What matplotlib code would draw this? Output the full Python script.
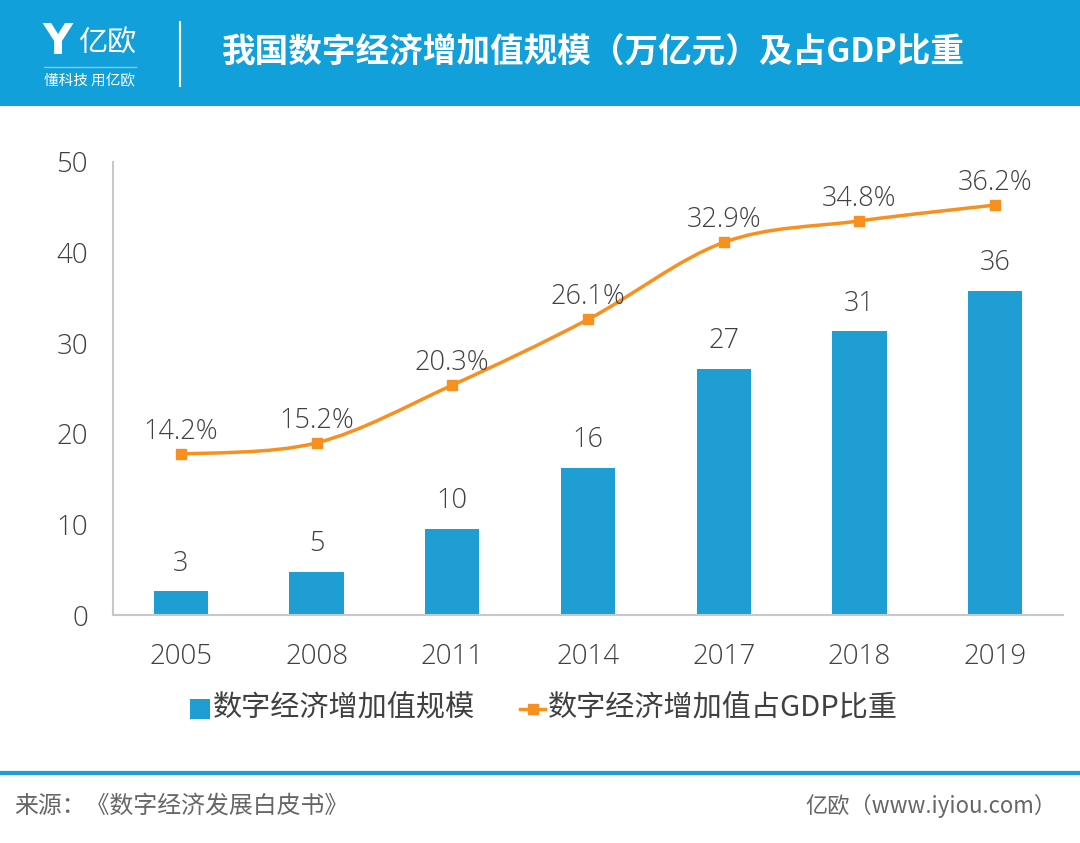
import matplotlib
matplotlib.use("Agg")
import matplotlib.pyplot as plt
from matplotlib.path import Path
from matplotlib.patches import PathPatch, Rectangle
from matplotlib.lines import Line2D

plt.rcParams['font.family'] = ['Noto Sans CJK SC', 'DejaVu Sans']

years = ['2005', '2008', '2011', '2014', '2017', '2018', '2019']
scale = [2.6, 4.8, 9.5, 16.2, 27.2, 31.3, 35.8]
scale_labels = ['3', '5', '10', '16', '27', '31', '36']
share = [14.2, 15.2, 20.3, 26.1, 32.9, 34.8, 36.2]
yticks = [0, 10, 20, 30, 40, 50]

title = '我国数字经济增加值规模（万亿元）及占GDP比重'
bar_name = '数字经济增加值规模'
line_name = '数字经济增加值占GDP比重'
source = '来源：《数字经济发展白皮书》'
credit = '亿欧（www.iyiou.com）'

BLUE_HDR = '#12a0da'
BAR = '#1f9ed4'
ORANGE = '#f7901e'
TXT = '#404040'
W, H = 1080, 843
NUMFAM = ['Open Sans', 'DejaVu Sans']

fig = plt.figure(figsize=(W / 100, H / 100), dpi=100)
fig.patch.set_facecolor('white')

def fx(px):
    return px / W

def fy(py):
    return 1 - py / H

# header
fig.patches.append(Rectangle((0, fy(106)), 1, 106 / H, transform=fig.transFigure,
                             facecolor=BLUE_HDR, edgecolor='none', zorder=0))
fig.text(fx(42), fy(42), 'Y', color='white', fontsize=30, fontweight='bold',
         family=['DejaVu Sans'], ha='left', va='center')
fig.text(fx(78), fy(44), '亿欧', color='white', fontsize=21, ha='left', va='center',
         fontweight='light')
fig.lines.append(Line2D([fx(44), fx(136)], [fy(67), fy(67)], transform=fig.transFigure,
                        color='#7fcdee', lw=1))
fig.text(fx(44), fy(81), '懂科技 用亿欧', color='white', fontsize=10.5, ha='left', va='center')
fig.lines.append(Line2D([fx(180), fx(180)], [fy(22), fy(86)], transform=fig.transFigure,
                        color='white', lw=1.5))
fig.text(fx(222), fy(53), title, color='white', fontsize=24.2, fontweight='bold',
         ha='left', va='center')

# main axes
ax = fig.add_axes([fx(113), fy(615), fx(1063) - fx(113), fy(162) - fy(615)])
x = list(range(len(years)))
ax.bar(x, scale, width=0.4, color=BAR, zorder=2)
ax.set_xlim(-0.5, len(years) - 0.5)
ax.set_ylim(0, 50)
ax.set_yticks(yticks)
ax.set_yticklabels([str(t) for t in yticks])
ax.set_xticks(x)
ax.set_xticklabels(years)
ax.tick_params(length=0, labelsize=20, colors=TXT, pad=20)
ax.tick_params(axis='y', pad=18)
for lab in ax.get_xticklabels() + ax.get_yticklabels():
    lab.set_fontweight('light')
    lab.set_family(NUMFAM)
for s in ['top', 'right']:
    ax.spines[s].set_visible(False)
for s in ['left', 'bottom']:
    ax.spines[s].set_color('#c8c8c8')
    ax.spines[s].set_linewidth(1.5)
for xi, v, lab in zip(x, scale, scale_labels):
    ax.annotate(lab, (xi, v), xytext=(0, 10), textcoords='offset points',
                ha='center', va='bottom', fontsize=19.5, color=TXT, fontweight='light',
                family=NUMFAM)

# secondary axis for share
ax2 = ax.twinx()
ax2.set_ylim(0, 40)
ax2.axis('off')
pts = list(zip(x, share))
verts = [pts[0]]
codes = [Path.MOVETO]
n = len(pts)
for i in range(n - 1):
    p0 = pts[i - 1] if i > 0 else pts[i]
    p1 = pts[i]
    p2 = pts[i + 1]
    p3 = pts[i + 2] if i + 2 < n else pts[i + 1]
    c1 = (p1[0] + (p2[0] - p0[0]) / 6, p1[1] + (p2[1] - p0[1]) / 6)
    c2 = (p2[0] - (p3[0] - p1[0]) / 6, p2[1] - (p3[1] - p1[1]) / 6)
    verts += [c1, c2, p2]
    codes += [Path.CURVE4] * 3
ax2.add_patch(PathPatch(Path(verts, codes), facecolor='none', edgecolor=ORANGE, lw=2.5, zorder=3))
ax2.plot(x, share, linestyle='none', marker='s', markersize=7, color=ORANGE, zorder=4)
for xi, v in zip(x, share):
    ax2.annotate(f'{v:.1f}%', (xi, v), xytext=(0, 6), textcoords='offset points',
                 ha='center', va='bottom', fontsize=19.5, color=TXT, fontweight='light',
                 family=NUMFAM)

# legend
fig.patches.append(Rectangle((fx(190), fy(719)), fx(20), 20 / H, transform=fig.transFigure,
                             facecolor=BAR, edgecolor='none'))
fig.text(fx(213), fy(708), bar_name, fontsize=21, color=TXT, ha='left', va='center',
         fontweight='light')
fig.lines.append(Line2D([fx(520), fx(545)], [fy(709), fy(709)], transform=fig.transFigure,
                        color=ORANGE, lw=2.5))
fig.lines.append(Line2D([fx(532.5)], [fy(709)], transform=fig.transFigure, color=ORANGE,
                        marker='s', markersize=7, linestyle='none'))
fig.text(fx(548), fy(708), line_name, fontsize=21, color=TXT, ha='left', va='center',
         fontweight='light')

# footer
fig.lines.append(Line2D([0, 1], [fy(773), fy(773)], transform=fig.transFigure,
                        color='#1a9fd8', lw=3))
fig.text(fx(14), fy(806), source, fontsize=17.2, color='#666666', ha='left', va='center',
         fontweight='light')
fig.text(fx(1056), fy(806), credit, fontsize=16, color='#666666', ha='right', va='center',
         fontweight='light')

fig.savefig('out.png', dpi=100, facecolor='white')
